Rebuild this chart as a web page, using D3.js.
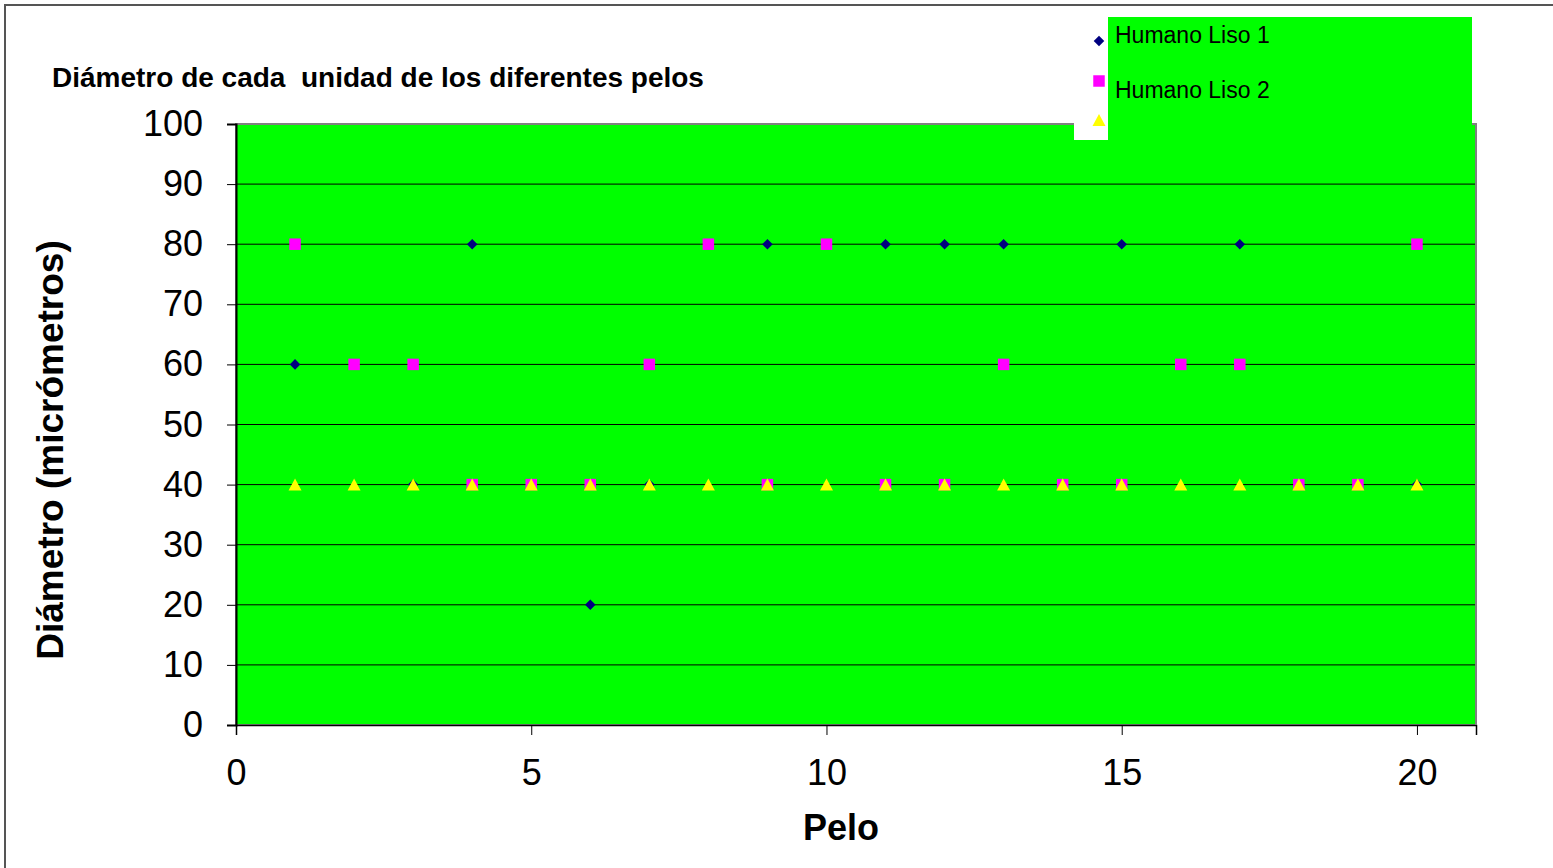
<!DOCTYPE html>
<html>
<head>
<meta charset="utf-8">
<script src="https://cdn.jsdelivr.net/npm/d3@7/dist/d3.min.js"></script>
<style>
  html, body { margin: 0; padding: 0; background: #fff; }
  svg { display: block; }
  text { font-family: "Liberation Sans", Arial, sans-serif; }
</style>
</head>
<body>
<svg id="chart" width="1553" height="868"></svg>
<script>
// Hair number (Pelo) and measured diameters in micrometres
const pelos = [1, 2, 3, 4, 5, 6, 7, 8, 9, 10, 11, 12, 13, 14, 15, 16, 17, 18, 19, 20];
const humanoLiso1 = [60, 60, 40, 80, 40, 20, 40, 80, 80, 80, 80, 80, 80, 40, 80, 60, 80, 40, 40, 40];
const humanoLiso2 = [80, 60, 60, 40, 40, 40, 60, 80, 40, 80, 40, 40, 60, 40, 40, 60, 60, 40, 40, 80];
const humanoLiso3 = [40, 40, 40, 40, 40, 40, 40, 40, 40, 40, 40, 40, 40, 40, 40, 40, 40, 40, 40, 40];
const seriesNames = ["Humano Liso 1", "Humano Liso 2"];
const yTicks = [0, 10, 20, 30, 40, 50, 60, 70, 80, 90, 100];
const xTicks = [0, 5, 10, 15, 20];

const svg = d3.select("#chart");
const plot = { left: 236, right: 1476, top: 124, bottom: 725 };

const x = d3.scaleLinear().domain([0, 21]).range([plot.left, plot.right]);
const y = d3.scaleLinear().domain([0, 100]).range([plot.bottom, plot.top]);

// Outer chart border
svg.append("rect")
  .attr("x", 5).attr("y", 5).attr("width", 1600).attr("height", 900)
  .attr("fill", "#fff").attr("stroke", "#555").attr("stroke-width", 2);

// Plot area
svg.append("rect")
  .attr("x", plot.left).attr("y", plot.top)
  .attr("width", plot.right - plot.left).attr("height", plot.bottom - plot.top)
  .attr("fill", "#00ff00").attr("stroke", "#808080").attr("stroke-width", 2);

// Horizontal gridlines
svg.append("g").selectAll("line")
  .data(yTicks.filter(d => d > 0 && d < 100))
  .join("line")
  .attr("x1", plot.left).attr("x2", plot.right)
  .attr("y1", d => y(d)).attr("y2", d => y(d))
  .attr("stroke", "#000").attr("stroke-width", 1);

// Y axis
const yAxis = svg.append("g")
  .attr("transform", `translate(${plot.left},0)`)
  .call(d3.axisLeft(y).tickValues(yTicks).tickSize(9).tickPadding(24).tickFormat(d3.format("d")));
yAxis.select(".domain").attr("stroke", "#000").attr("stroke-width", 2);
yAxis.selectAll(".tick line").attr("stroke", "#000");
yAxis.selectAll(".tick text")
  .attr("font-size", 36).attr("fill", "#000")
  .style("font-family", '"Liberation Sans", Arial, sans-serif');

// X axis
const xAxis = svg.append("g")
  .attr("transform", `translate(0,${plot.bottom})`)
  .call(d3.axisBottom(x).tickValues(xTicks).tickSize(10).tickPadding(24).tickFormat(d3.format("d")));
xAxis.select(".domain").attr("stroke", "#000").attr("stroke-width", 1.5);
xAxis.selectAll(".tick line").attr("stroke", "#000");
xAxis.selectAll(".tick text")
  .attr("font-size", 36).attr("fill", "#000")
  .style("font-family", '"Liberation Sans", Arial, sans-serif');
// keep the right plot border visible over the axis line end
svg.append("line")
  .attr("x1", plot.right).attr("x2", plot.right)
  .attr("y1", plot.top).attr("y2", plot.bottom)
  .attr("stroke", "#808080").attr("stroke-width", 2);

// Marker shapes
const diamond = d3.symbol().type(d3.symbolSquare).size(56);
const square = d3.symbol().type(d3.symbolSquare).size(132);
const trianglePath = (w, h) => `M0,${-h / 2}L${w / 2},${h / 2}L${-w / 2},${h / 2}Z`;

const series = [
  { values: humanoLiso1, color: "#000080", path: diamond(), rotate: 45 },
  { values: humanoLiso2, color: "#ff00ff", path: square(), rotate: 0 },
  { values: humanoLiso3, color: "#ffff00", path: trianglePath(13, 12), rotate: 0 }
];

series.forEach(s => {
  svg.append("g").selectAll("path")
    .data(pelos.map((p, i) => [p, s.values[i]]))
    .join("path")
    .attr("d", s.path)
    .attr("fill", s.color)
    .attr("transform", d => `translate(${x(d[0])},${y(d[1])}) rotate(${s.rotate})`);
});

// Legend
const legend = svg.append("g");
legend.append("rect")
  .attr("x", 1074).attr("y", 17).attr("width", 398).attr("height", 123)
  .attr("fill", "#fff");
legend.append("rect")
  .attr("x", 1108).attr("y", 17).attr("width", 364).attr("height", 123)
  .attr("fill", "#00ff00");
const legendY = [41, 81, 120];
series.forEach((s, i) => {
  legend.append("path")
    .attr("d", s.path)
    .attr("fill", s.color)
    .attr("transform", `translate(1099,${legendY[i]}) rotate(${s.rotate})`);
});
legend.selectAll("text.entry")
  .data(seriesNames)
  .join("text")
  .attr("class", "entry")
  .attr("x", 1115)
  .attr("y", (d, i) => [43, 98][i])
  .attr("font-size", 23)
  .attr("fill", "#000")
  .text(d => d);

// Titles
svg.append("text")
  .attr("x", 52).attr("y", 87)
  .attr("font-size", 28).attr("font-weight", "bold")
  .attr("xml:space", "preserve")
  .style("white-space", "pre")
  .text("Diámetro de cada  unidad de los diferentes pelos");

svg.append("text")
  .attr("x", 841).attr("y", 840)
  .attr("text-anchor", "middle")
  .attr("font-size", 36).attr("font-weight", "bold")
  .text("Pelo");

svg.append("text")
  .attr("transform", "translate(63,450) rotate(-90)")
  .attr("text-anchor", "middle")
  .attr("font-size", 37).attr("font-weight", "bold")
  .text("Diámetro (micrómetros)");
</script>
</body>
</html>
